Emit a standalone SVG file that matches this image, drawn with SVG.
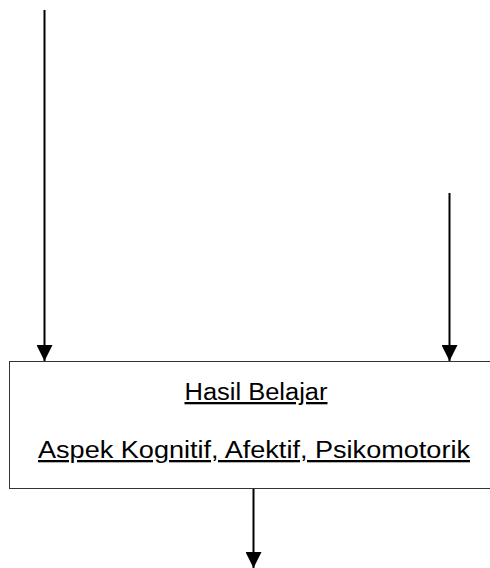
<svg xmlns="http://www.w3.org/2000/svg" width="490" height="568" viewBox="0 0 490 568">
<style>
.conn{stroke:#000;stroke-width:2;fill:none}
.box{fill:#fff;stroke:#333;stroke-width:1}
.lbl{font-family:"Liberation Sans",Arial,sans-serif;font-size:23px;fill:#000;text-decoration:underline;text-anchor:middle}
</style>
<defs>
<marker id="ah" markerUnits="userSpaceOnUse" markerWidth="16" markerHeight="16" refX="16" refY="8" orient="auto" viewBox="0 0 16 16">
<path d="M0,0 L16,8 L0,16 Z" fill="#000"/>
</marker>
</defs>
<g id="connectors">
<line class="conn" x1="44.5" y1="10" x2="44.5" y2="361" marker-end="url(#ah)"/>
<line class="conn" x1="449.5" y1="193" x2="449.5" y2="361" marker-end="url(#ah)"/>
<line class="conn" x1="253.5" y1="489" x2="253.5" y2="568" marker-end="url(#ah)"/>
</g>
<g id="hasil-belajar">
<rect class="box" x="9.5" y="361.5" width="500" height="127"/>
<text class="lbl" x="256" y="400" textLength="143" lengthAdjust="spacingAndGlyphs">Hasil Belajar</text>
<text class="lbl" x="254" y="458" textLength="432" lengthAdjust="spacingAndGlyphs">Aspek Kognitif, Afektif, Psikomotorik</text>
</g>
</svg>
